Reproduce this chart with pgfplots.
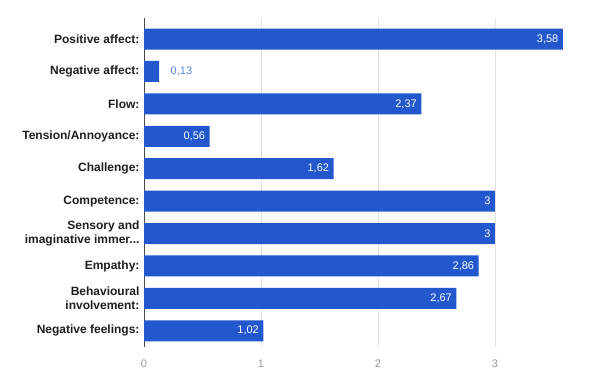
\documentclass[border=0pt]{standalone}
\usepackage{pgfplots}
\pgfplotsset{compat=1.18}
\usepackage{fontspec}
\setmainfont{Liberation Sans}
\definecolor{barblue}{RGB}{34,87,205}
\definecolor{lbl}{RGB}{30,30,30}
\definecolor{gridc}{RGB}{225,225,225}
\definecolor{tickc}{RGB}{150,150,150}
\definecolor{outlbl}{RGB}{90,130,230}
\begin{document}
\begin{tikzpicture}
\path[use as bounding box] (0,0) rectangle (608bp,372bp);
\begin{axis}[
  at={(144bp,25bp)}, anchor=south west,
  scale only axis, width=451.6bp, height=329bp,
  xmin=0, xmax=3.86,
  ymin=-0.65, ymax=9.5,
  y dir=reverse,
  xbar, bar width=21bp, bar shift=0pt,
  axis x line*=bottom, axis y line*=left,
  x axis line style={draw=none},
  y axis line style={draw=black!70, line width=0.6pt},
  xtick={0,1,2,3},
  xticklabels={0,1,2,3},
  xticklabel style={font=\fontsize{11bp}{13bp}\selectfont, text=tickc, yshift=-9bp},
  major tick length=0pt,
  xmajorgrids, grid style={gridc, line width=0.6pt},
  ytick={0,1,2,3,4,5,6,7,8,9},
  yticklabels={Positive affect:, Negative affect:, Flow:, Tension/Annoyance:, Challenge:, Competence:, {Sensory and\\imaginative immer.{}.{}.}, Empathy:, {Behavioural\\involvement:}, Negative feelings:},
  yticklabel style={font=\fontsize{12bp}{13.5bp}\selectfont\bfseries, text=lbl, align=right, xshift=-1bp},
  point meta=explicit symbolic,
  nodes near coords,
  every node near coord/.append style={anchor=east, text=white, font=\fontsize{11bp}{13bp}\selectfont, xshift=-1bp},
]
\addplot[fill=barblue, draw=none] coordinates {
  (3.58,0) [3,58]
  (0.13,1) [\phantom{0}]
  (2.37,2) [2,37]
  (0.56,3) [0,56]
  (1.62,4) [1,62]
  (3,5) [3]
  (3,6) [3]
  (2.86,7) [2,86]
  (2.67,8) [2,67]
  (1.02,9) [1,02]
};
\addplot[draw=none, fill=none, every node near coord/.append style={anchor=west, text=outlbl, xshift=9bp}] coordinates {
  (0.13,1) [0,13]
};
\end{axis}
\end{tikzpicture}
\end{document}
